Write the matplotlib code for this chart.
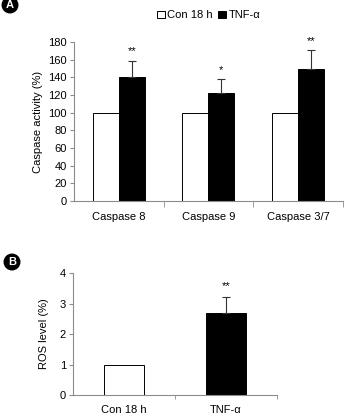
import matplotlib.pyplot as plt
import numpy as np

plt.rcParams['font.family'] = ['Liberation Sans', 'DejaVu Sans']

# panel A data
groups = ['Caspase 8', 'Caspase 9', 'Caspase 3/7']
con_vals = [100, 100, 100]
tnf_vals = [140, 122, 149]
tnf_err = [19, 16, 22]
stars_a = ['**', '*', '**']

# panel B data
ros_labels = ['Con 18 h', 'TNF-α']
ros_vals = [1.0, 2.68]
ros_err = [0, 0.52]
stars_b = ['', '**']

gray = '#8c8c8c'

fig = plt.figure(figsize=(3.45, 4.16), dpi=100)

# ---- A
ax = fig.add_axes([0.2145, 0.5168, 0.7795, 0.382])
x = np.arange(len(groups))
w = 0.29
b1 = ax.bar(x - w/2, con_vals, w, color='white', edgecolor='black', linewidth=0.7, label='Con 18 h')
b2 = ax.bar(x + w/2, tnf_vals, w, color='black', edgecolor='black', linewidth=0.7, label='TNF-α')
ax.errorbar(x + w/2, tnf_vals, yerr=[np.zeros(3), tnf_err], fmt='none', ecolor='#333333',
            elinewidth=0.8, capsize=3, capthick=0.8)
for i in range(len(groups)):
    ax.text(x[i] + w/2, tnf_vals[i] + tnf_err[i] + 5, stars_a[i], ha='center', va='bottom', fontsize=8)
ax.set_xlim(-0.5, 2.5)
ax.set_ylim(0, 180)
ax.set_yticks(range(0, 181, 20))
ax.set_xticks(x)
ax.set_xticklabels(groups, fontsize=8)
ax.set_xticks([0.5, 1.5, 2.5], minor=True)
ax.tick_params(axis='x', which='major', length=0, pad=8)
ax.tick_params(axis='x', which='minor', length=4, color=gray, direction='out')
ax.tick_params(axis='y', labelsize=8, length=3, color=gray, pad=2)
ax.set_ylabel('Caspase activity (%)', fontsize=8, labelpad=4)
for s in ['top', 'right']:
    ax.spines[s].set_visible(False)
for s in ['left', 'bottom']:
    ax.spines[s].set_color(gray)
    ax.spines[s].set_linewidth(0.8)

fig.legend(handles=[b1, b2], loc='center', bbox_to_anchor=(0.605, 0.963), ncol=2, frameon=False,
           fontsize=8, handlelength=0.7, handleheight=0.7, handletextpad=0.2, columnspacing=0.5)

# ---- B
ax2 = fig.add_axes([0.2116, 0.0505, 0.591, 0.293])
xb = np.arange(len(ros_labels))
ax2.bar(xb, ros_vals, 0.4, color=['white', 'black'], edgecolor='black', linewidth=0.7)
ax2.errorbar(xb[1:], ros_vals[1:], yerr=[[0], ros_err[1:]], fmt='none', ecolor='#333333',
             elinewidth=0.8, capsize=3, capthick=0.8)
ax2.text(xb[1], ros_vals[1] + ros_err[1] + 0.22, stars_b[1], ha='center', va='bottom', fontsize=8)
ax2.set_xlim(-0.5, 1.5)
ax2.set_ylim(0, 4)
ax2.set_yticks(range(0, 5))
ax2.set_xticks(xb)
ax2.set_xticklabels(ros_labels, fontsize=8)
ax2.set_xticks([0.5, 1.5], minor=True)
ax2.tick_params(axis='x', which='major', length=0, pad=7)
ax2.tick_params(axis='x', which='minor', length=3, color=gray, direction='out')
ax2.tick_params(axis='y', labelsize=8, length=3, color=gray, pad=2)
ax2.set_ylabel('ROS level (%)', fontsize=8, labelpad=8)
for s in ['top', 'right']:
    ax2.spines[s].set_visible(False)
for s in ['left', 'bottom']:
    ax2.spines[s].set_color(gray)
    ax2.spines[s].set_linewidth(0.8)

# panel letters
for lbl, px, py in [('A', 10 / 345, 1 - 5 / 416), ('B', 12 / 345, 1 - 262 / 416)]:
    fig.text(px, py, lbl, ha='center', va='center', color='white', fontsize=8, fontweight='bold',
             bbox=dict(boxstyle='circle,pad=0.25', fc='black', ec='black'))

fig.savefig('out.png', dpi=100)
